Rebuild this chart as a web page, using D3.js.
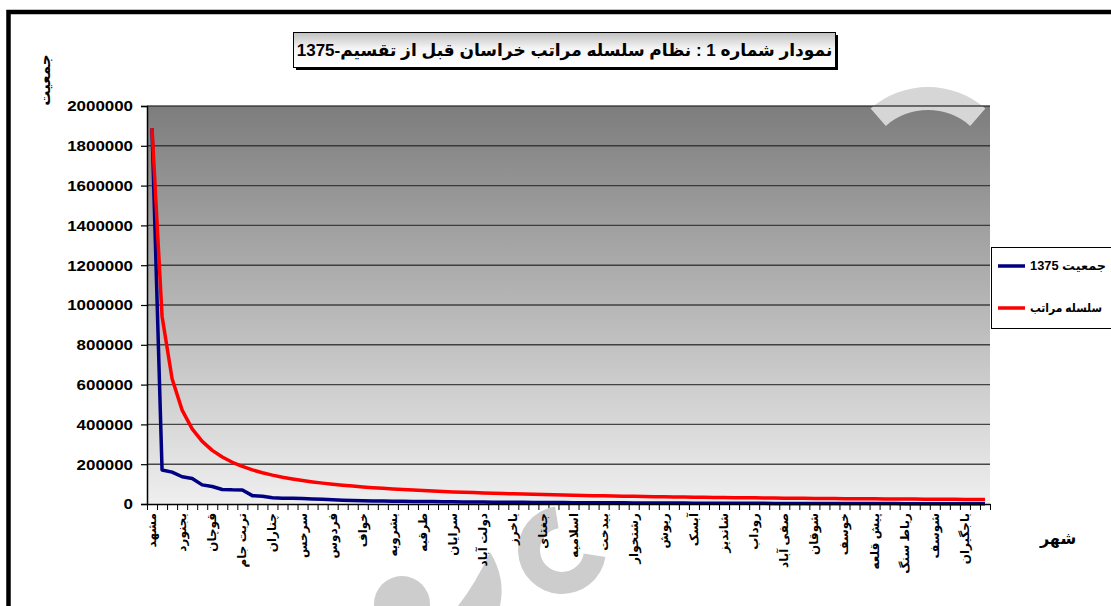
<!DOCTYPE html>
<html><head><meta charset="utf-8">
<script src="https://cdn.jsdelivr.net/npm/d3@7"></script>
<style>
html,body{margin:0;padding:0;background:#fff;}
svg{display:block;}
text{font-family:"Liberation Sans",Arial,"DejaVu Sans",sans-serif;font-weight:bold;fill:#000;}
</style></head>
<body>
<svg id="chart" width="1111" height="606"></svg>
<script>
// ---------- data ----------
const title = "نمودار شماره 1 : نظام سلسله مراتب خراسان قبل از تقسیم-1375";
const yTitle = "جمعیت";
const xTitle = "شهر";
const seriesNames = ["جمعیت 1375", "سلسله مراتب"];
// labels shown on every third category (index 0,3,6,...)
const tickLabels = ["مشهد","بجنورد","قوچان","تربت جام","چناران","سرخس","فردوس","خواف","بشرویه","طرقبه",
  "سرایان","دولت آباد","باخرز","جغتای","اسلامیه","بیدخت","رشتخوار","ریوش","آبسک","شاندیز",
  "روداب","صفی آباد","شوقان","خوسف","پیش قلعه","رباط سنگ","شوسف","باجگیران"];
const population = [1887405,171000,160000,137000,128000,96000,88000,73000,71000,70500,
  42000,39000,31000,29500,28500,27500,25500,23500,21500,19000,
  17500,16500,15500,14500,14000,13500,13000,12500,12000,11500,
  11000,10500,10000,9500,9200,8900,8600,8300,8000,7700,
  7400,7100,6800,6500,6300,6100,5900,5700,5500,5300,
  5100,4900,4700,4500,4300,4150,4000,3850,3700,3550,
  3400,3250,3100,3000,2900,2800,2700,2600,2500,2400,
  2300,2200,2100,2000,1900,1800,1700,1600,1500,1400,
  1300,1200,1100,1000];
const hierarchy = [1887405,943703,629135,471851,377481,314568,269629,235926,209712,188741,
  171582,157284,145185,134815,125827,117963,111024,104856,99337,94370,
  89876,85791,82061,78642,75496,72593,69904,67407,65083,62914,
  60884,58981,57194,55512,53926,52428,51011,49669,48395,47185,
  46034,44938,43893,42896,41942,41031,40158,39321,38518,37748,
  37008,36296,35611,34952,34316,33704,33112,32542,31990,31457,
  30941,30442,29959,29491,29037,28597,28170,27756,27354,26963,
  26583,26214,25855,25505,25165,24834,24512,24197,23891,23593,
  23301,23017,22740,22469];
const yTicks = [0,200000,400000,600000,800000,1000000,1200000,1400000,1600000,1800000,2000000];
const seriesColors = ["#000080", "#ff0000"];

// ---------- layout ----------
const svg = d3.select("#chart");
const L = 147, R = 990, T = 106, B = 504;
const n = population.length;
const xb = d3.scaleBand().domain(d3.range(n)).range([L, R]).paddingInner(0).paddingOuter(0);
const xEdge = d3.scaleLinear().domain([0, n]).range([L, R]);
const y = d3.scaleLinear().domain([0, 2000000]).range([B, T]);
const cx = i => xb(i) + xb.bandwidth() / 2;

const defs = svg.append("defs");
const g1 = defs.append("linearGradient").attr("id","plotbg").attr("x1",0).attr("y1",0).attr("x2",0).attr("y2",1);
g1.append("stop").attr("offset","0%").attr("stop-color","#7d7d7d");
g1.append("stop").attr("offset","100%").attr("stop-color","#efefef");
const g2 = defs.append("linearGradient").attr("id","titlebg").attr("x1",0).attr("y1",0).attr("x2",0).attr("y2",1);
g2.append("stop").attr("offset","0%").attr("stop-color","#c0c0c0");
g2.append("stop").attr("offset","45%").attr("stop-color","#f4f4f4");
g2.append("stop").attr("offset","100%").attr("stop-color","#ffffff");

// outer frame
svg.append("rect").attr("x",8.5).attr("y",12).attr("width",1300).attr("height",800)
  .attr("fill","none").attr("stroke","#000").attr("stroke-width",4.5);

// plot background
svg.append("rect").attr("x",L).attr("y",T).attr("width",R-L).attr("height",B-T).attr("fill","url(#plotbg)");

// watermark shapes
const wm = "#cdcdcd";
svg.append("path").attr("transform","translate(928,174)")
  .attr("d", d3.arc()({innerRadius:64, outerRadius:87, startAngle:-0.72, endAngle:0.72}))
  .attr("fill", "#d6d6d6");

// gridlines
svg.append("g").selectAll("line").data(yTicks.filter(d => d > 0)).join("line")
  .attr("x1",L).attr("x2",R).attr("y1",d => y(d)).attr("y2",d => y(d))
  .attr("stroke","#2a2a2a").attr("stroke-width",1.4).attr("stroke-opacity",0.85);

// lines
const line = d3.line().x((d,i) => cx(i)).y(d => y(d));
svg.append("path").datum(population).attr("d", line).attr("fill","none")
  .attr("stroke", seriesColors[0]).attr("stroke-width",3.5).attr("stroke-linejoin","round");
svg.append("path").datum(hierarchy).attr("d", line).attr("fill","none")
  .attr("stroke", seriesColors[1]).attr("stroke-width",3.5).attr("stroke-linejoin","round");

// axes
const yAxis = svg.append("g").attr("transform",`translate(${L},0)`)
  .call(d3.axisLeft(y).tickValues(yTicks).tickFormat(d3.format("d")).tickSize(6).tickPadding(8));
yAxis.select(".domain").attr("stroke","#000").attr("stroke-width",1.5);
yAxis.selectAll(".tick line").attr("stroke","#000").attr("stroke-width",1.2);
yAxis.selectAll(".tick text").style("font-size","15px").style("font-weight","bold")
  .style("font-family",'"Liberation Sans",Arial,sans-serif').attr("fill","#000")
  .attr("textLength", d => String(d).length * 9.4).attr("lengthAdjust","spacingAndGlyphs");

const xAxis = svg.append("g").attr("transform",`translate(0,${B})`)
  .call(d3.axisBottom(xEdge).tickValues(d3.range(n + 1)).tickFormat("").tickSize(6).tickSizeOuter(0));
xAxis.select(".domain").attr("stroke","#000").attr("stroke-width",1.5);
xAxis.selectAll(".tick line").attr("stroke","#000").attr("stroke-width",1);

// bottom watermark shapes (behind labels)
svg.append("path").attr("transform","translate(562,550)")
  .attr("d", d3.arc()({innerRadius:22, outerRadius:44, startAngle:Math.PI*0.55, endAngle:Math.PI*1.95}))
  .attr("fill", wm);
svg.append("circle").attr("cx",402).attr("cy",604).attr("r",28).attr("fill", wm);
svg.append("path").attr("d","M490,552 Q476,583 458,606 L500,606 Q506,578 490,552 Z").attr("fill", wm);

// x labels (rotated)
const xl = svg.append("g");
tickLabels.forEach((lab, k) => {
  const i = k * 3;
  const t = xl.append("text").attr("direction","rtl").attr("text-anchor","middle")
    .style("font-size","12px").attr("dominant-baseline","central").text(lab);
  const len = t.node().getComputedTextLength();
  t.attr("transform", `translate(${cx(i)},${513 + len/2}) rotate(-90)`);
});

// axis titles
svg.append("text").attr("direction","rtl").attr("text-anchor","middle").attr("dominant-baseline","central")
  .attr("transform","translate(44,80) rotate(-90)").style("font-size","15px").text(yTitle);
svg.append("text").attr("direction","rtl").attr("text-anchor","middle").attr("dominant-baseline","central")
  .attr("x",1058).attr("y",538).style("font-size","16px").text(xTitle);

// title box
svg.append("rect").attr("x",296).attr("y",35).attr("width",542).attr("height",35).attr("fill","#000");
svg.append("rect").attr("x",293.5).attr("y",32.5).attr("width",542).attr("height",35)
  .attr("fill","url(#titlebg)").attr("stroke","#000").attr("stroke-width",1);
svg.append("text").attr("direction","rtl").attr("text-anchor","middle")
  .attr("x",564.5).attr("y",56).style("font-size","17px").text(title);

// legend
svg.append("rect").attr("x",991.5).attr("y",247.5).attr("width",200).attr("height",81)
  .attr("fill","#fff").attr("stroke","#000").attr("stroke-width",1);
const legY = [266, 308];
const legW = [76, 72];
seriesNames.forEach((nm, k) => {
  svg.append("line").attr("x1",998).attr("x2",1025).attr("y1",legY[k]).attr("y2",legY[k])
    .attr("stroke", seriesColors[k]).attr("stroke-width",3.5);
  svg.append("text").attr("direction","rtl").attr("text-anchor","middle")
    .attr("dominant-baseline","central").style("font-size","12px")
    .attr("textLength", legW[k]).attr("lengthAdjust","spacingAndGlyphs")
    .attr("x", 1030 + legW[k]/2).attr("y", legY[k]).text(nm);
});
</script>
</body></html>
